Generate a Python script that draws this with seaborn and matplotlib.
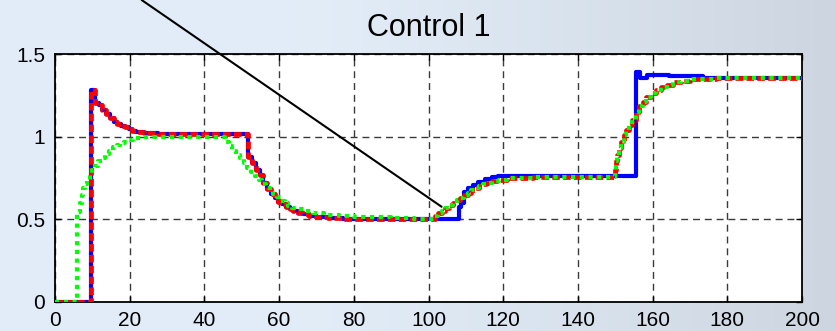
import numpy as np
import matplotlib
matplotlib.use("Agg")
import matplotlib.pyplot as plt
import seaborn as sns

# ---------------- data ----------------
title = "Control 1"
x_ticks = [0, 20, 40, 60, 80, 100, 120, 140, 160, 180, 200]
y_ticks = [0, 0.5, 1, 1.5]
y_tick_labels = ["0", "0.5", "1", "1.5"]

blue_x = [0, 9.7, 10.7, 11.7, 12.7, 13.7, 14.7, 15.7, 16.7, 17.7, 18.7, 19.7,
          20.7, 21.7, 22.7, 23.7, 27.7, 51.8, 52.8, 53.8, 54.8, 55.8, 56.8,
          57.8, 58.8, 59.8, 60.8, 61.8, 62.8, 63.8, 65, 66.5, 68, 70, 73, 77,
          108.2, 108.8, 109.4, 110.6, 111.9, 113.2, 115, 117, 118.7, 155.6,
          156.6, 158.6, 160.5, 164.5, 173.5, 200]
blue_y = [0, 1.28, 1.205, 1.19, 1.16, 1.135, 1.11, 1.09, 1.075, 1.065, 1.055,
          1.045, 1.035, 1.03, 1.025, 1.02, 1.013, 0.878, 0.84, 0.80, 0.767,
          0.72, 0.685, 0.655, 0.625, 0.605, 0.59, 0.576, 0.562, 0.55, 0.54,
          0.53, 0.522, 0.515, 0.508, 0.503, 0.575, 0.60, 0.666, 0.687, 0.707,
          0.727, 0.745, 0.755, 0.763, 1.393, 1.355, 1.37, 1.375, 1.367, 1.357,
          1.357]

green_x = [0, 6.0, 6.6, 7.1, 7.6, 8.1, 8.6, 9.3, 10.0, 10.8, 11.6, 12.5, 13.5,
           14.5, 15.5, 16.5, 17.5, 18.5, 19.5, 21, 23, 26, 45.5, 46.5, 47.5,
           48.5, 49.5, 50.5, 51.5, 52.5, 53.5, 54.5, 55.5, 56.5, 57.5, 58.5,
           59.5, 60.5, 61.5, 62.5, 63.5, 65, 67, 69, 72, 76, 80, 85, 90, 96,
           101.7, 102.5, 103.5, 104.5, 105.5, 106.5, 107.5, 108.5, 109.5,
           110.5, 111.5, 112.5, 113.5, 114.5, 115.5, 117, 119, 121, 124, 128,
           149.8, 150.2, 150.6, 151.0, 151.6, 152.3, 153.0, 153.8, 154.6,
           155.5, 156.4, 157.3, 158.3, 159.5, 160.8, 162.2, 163.8, 165.5,
           167.5, 170, 173, 177, 200]
green_y = [0, 0.545, 0.60, 0.645, 0.69, 0.715, 0.74, 0.77, 0.795, 0.82, 0.85,
           0.87, 0.895, 0.915, 0.935, 0.95, 0.96, 0.97, 0.98, 0.99, 0.995, 1.0,
           0.97, 0.94, 0.915, 0.89, 0.87, 0.84, 0.81, 0.785, 0.76, 0.735, 0.71,
           0.69, 0.668, 0.65, 0.632, 0.61, 0.595, 0.58, 0.57, 0.56, 0.548,
           0.538, 0.528, 0.52, 0.515, 0.51, 0.505, 0.502, 0.52, 0.535, 0.55,
           0.567, 0.585, 0.60, 0.615, 0.628, 0.645, 0.66, 0.675, 0.69, 0.70,
           0.712, 0.72, 0.73, 0.74, 0.747, 0.752, 0.757, 0.80, 0.85, 0.89,
           0.93, 0.97, 1.01, 1.04, 1.07, 1.10, 1.15, 1.185, 1.21, 1.24, 1.262,
           1.28, 1.30, 1.315, 1.328, 1.338, 1.346, 1.351, 1.355, 1.357]

red_x = [0, 9.7, 10.7, 11.7, 12.7, 13.7, 14.7, 15.7, 16.7, 17.7, 18.7, 19.7,
         20.7, 21.7, 22.7, 23.7, 27.7, 51.8, 52.8, 53.8, 54.8, 55.8, 56.8,
         57.8, 58.8, 59.8, 60.8, 61.8, 62.8, 63.8, 65, 66.5, 68, 70, 73, 77,
         101.7, 102.5, 103.5, 104.5, 105.5, 106.5, 107.5, 108.5, 109.5,
         110.5, 111.5, 112.5, 113.5, 114.5, 115.5, 117, 119, 121, 124, 128,
         149.8, 150.2, 150.6, 151.0, 151.6, 152.3, 153.0, 153.8, 154.6,
         155.5, 156.4, 157.3, 158.3, 159.5, 160.8, 162.2, 163.8, 165.5,
         167.5, 170, 173, 177, 200]
red_y = [0, 1.28, 1.205, 1.19, 1.16, 1.135, 1.11, 1.09, 1.075, 1.065, 1.055,
         1.045, 1.035, 1.03, 1.025, 1.02, 1.013, 0.878, 0.84, 0.80, 0.767,
         0.72, 0.685, 0.655, 0.625, 0.605, 0.59, 0.576, 0.562, 0.55, 0.54,
         0.53, 0.522, 0.515, 0.508, 0.503, 0.52, 0.535, 0.55, 0.567, 0.585,
         0.60, 0.615, 0.628, 0.645, 0.66, 0.675, 0.69, 0.70, 0.712, 0.72, 0.73,
         0.74, 0.747, 0.752, 0.757, 0.80, 0.85, 0.89, 0.93, 0.97, 1.01, 1.04,
         1.07, 1.10, 1.15, 1.185, 1.21, 1.24, 1.262, 1.28, 1.30, 1.315, 1.328,
         1.338, 1.346, 1.351, 1.355, 1.357]

# pointer line (data coordinates, runs outside the axes)
pointer_x = [23.2, 103.5]
pointer_y = [1.827, 0.575]

# ---------------- figure ----------------
sns.set_theme(style="white")
plt.rcParams["font.family"] = ["Liberation Sans", "DejaVu Sans"]

fig = plt.figure(figsize=(8.36, 3.31), dpi=100)

# slide-like gradient background
bg = fig.add_axes([0, 0, 1, 1], zorder=-10)
t = np.linspace(0, 1, 400)
ramp = np.clip((t - 0.35) / 0.65, 0, 1) ** 1.2
c_left = np.array([0.890, 0.929, 0.973])
c_right = np.array([0.800, 0.835, 0.878])
row = c_left[None, :] * (1 - ramp[:, None]) + c_right[None, :] * ramp[:, None]
bg.imshow(np.repeat(row[None, :, :], 2, axis=0), aspect="auto",
          extent=[0, 1, 0, 1])
bg.set_axis_off()

ax = fig.add_axes([55 / 836, 1 - 301.7 / 331, (802 - 55) / 836,
                   (301.7 - 54) / 331])
ax.set_facecolor("white")

sns.lineplot(x=blue_x, y=blue_y, ax=ax, color="#0000FF", lw=3.0,
             estimator=None, sort=False, drawstyle="steps-post", zorder=3)
sns.lineplot(x=red_x, y=red_y, ax=ax, color="#FF0000", lw=3.4,
             estimator=None, sort=False, drawstyle="steps-post",
             linestyle=(0, (1.6, 0.7)), zorder=4)
sns.lineplot(x=green_x, y=green_y, ax=ax, color="#00FF00", lw=3.0,
             estimator=None, sort=False, drawstyle="steps-post",
             linestyle=(0, (1, 1.1)), zorder=5)

ax.set_xlim(0, 200)
ax.set_ylim(0, 1.5)
ax.set_xticks(x_ticks)
ax.set_xticklabels([str(v) for v in x_ticks])
ax.set_yticks(y_ticks)
ax.set_yticklabels(y_tick_labels)

ax.grid(True, color="#3a3a3a", lw=1.0, linestyle=(0, (5, 3.5)), zorder=1)
ax.set_axisbelow(True)
for s in ax.spines.values():
    s.set_color("black")
    s.set_linewidth(1.3)
    s.set_visible(True)
ax.tick_params(axis="both", direction="in", length=4, width=1, color="black",
               labelsize=15, labelcolor="black", pad=7,
               top=True, right=True, bottom=True, left=True)

ax.set_title(title, fontsize=22, pad=13, color="black")

ax.plot(pointer_x, pointer_y, color="black", lw=1.5, clip_on=False, zorder=6)

fig.savefig("out.png", dpi=100)
